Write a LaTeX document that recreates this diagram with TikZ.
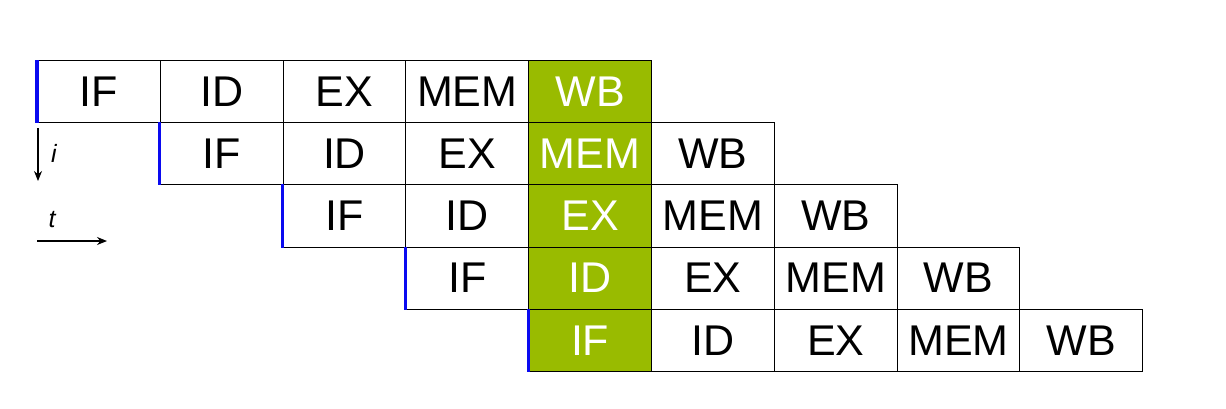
\documentclass[tikz,border=0pt]{standalone}
\usepackage{fontspec}
\setmainfont{Liberation Sans}
\usetikzlibrary{arrows.meta}
\definecolor{stagegreen}{RGB}{153,187,0}
\definecolor{startblue}{RGB}{10,10,240}
\begin{document}
\begin{tikzpicture}[x=1pt,y=-1pt,
  cell/.style={draw=black,line width=1pt,minimum width=122.8pt,minimum height=62.2pt,inner sep=0pt,anchor=north west,
    font=\fontsize{43}{43}\selectfont},
  hot/.style={cell,fill=stagegreen,text=white},
  startline/.style={draw=startblue,line width=3.2pt},
  axis/.style={draw=black,line width=1.3pt,-{Stealth[length=10pt,width=8pt]}},
  axlabel/.style={font=\fontsize{25}{25}\selectfont\itshape,inner sep=0pt}]
\useasboundingbox (0,0) rectangle (1226,408);
\def\cw{122.8}
\def\rh{62.2}
% row 1
\node[cell] (r1c1) at ({37+0*\cw},{60+0*\rh}) {IF};
\node[cell] (r1c2) at ({37+1*\cw},{60+0*\rh}) {ID};
\node[cell] (r1c3) at ({37+2*\cw},{60+0*\rh}) {EX};
\node[cell] (r1c4) at ({37+3*\cw},{60+0*\rh}) {MEM};
\node[hot]  (r1c5) at ({37+4*\cw},{60+0*\rh}) {WB};
% row 2
\node[cell] (r2c2) at ({37+1*\cw},{60+1*\rh}) {IF};
\node[cell] (r2c3) at ({37+2*\cw},{60+1*\rh}) {ID};
\node[cell] (r2c4) at ({37+3*\cw},{60+1*\rh}) {EX};
\node[hot]  (r2c5) at ({37+4*\cw},{60+1*\rh}) {MEM};
\node[cell] (r2c6) at ({37+5*\cw},{60+1*\rh}) {WB};
% row 3
\node[cell] (r3c3) at ({37+2*\cw},{60+2*\rh}) {IF};
\node[cell] (r3c4) at ({37+3*\cw},{60+2*\rh}) {ID};
\node[hot]  (r3c5) at ({37+4*\cw},{60+2*\rh}) {EX};
\node[cell] (r3c6) at ({37+5*\cw},{60+2*\rh}) {MEM};
\node[cell] (r3c7) at ({37+6*\cw},{60+2*\rh}) {WB};
% row 4
\node[cell] (r4c4) at ({37+3*\cw},{60+3*\rh}) {IF};
\node[hot]  (r4c5) at ({37+4*\cw},{60+3*\rh}) {ID};
\node[cell] (r4c6) at ({37+5*\cw},{60+3*\rh}) {EX};
\node[cell] (r4c7) at ({37+6*\cw},{60+3*\rh}) {MEM};
\node[cell] (r4c8) at ({37+7*\cw},{60+3*\rh}) {WB};
% row 5
\node[hot]  (r5c5) at ({37+4*\cw},{60+4*\rh}) {IF};
\node[cell] (r5c6) at ({37+5*\cw},{60+4*\rh}) {ID};
\node[cell] (r5c7) at ({37+6*\cw},{60+4*\rh}) {EX};
\node[cell] (r5c8) at ({37+7*\cw},{60+4*\rh}) {MEM};
\node[cell] (r5c9) at ({37+8*\cw},{60+4*\rh}) {WB};
% blue start markers
\foreach \n in {r1c1,r2c2,r3c3,r4c4,r5c5}
  \draw[startline] (\n.north west) -- (\n.south west);
% axes
\coordinate (ia) at (38,128);
\coordinate (ib) at (38,181);
\draw[axis] (ia) -- (ib);
\node[axlabel] (ilab) at (54,153) {i};
\coordinate (ta) at (37,241);
\coordinate (tb) at (107,241);
\draw[axis] (ta) -- (tb);
\node[axlabel] (tlab) at (52,220) {t};
\end{tikzpicture}
\end{document}
